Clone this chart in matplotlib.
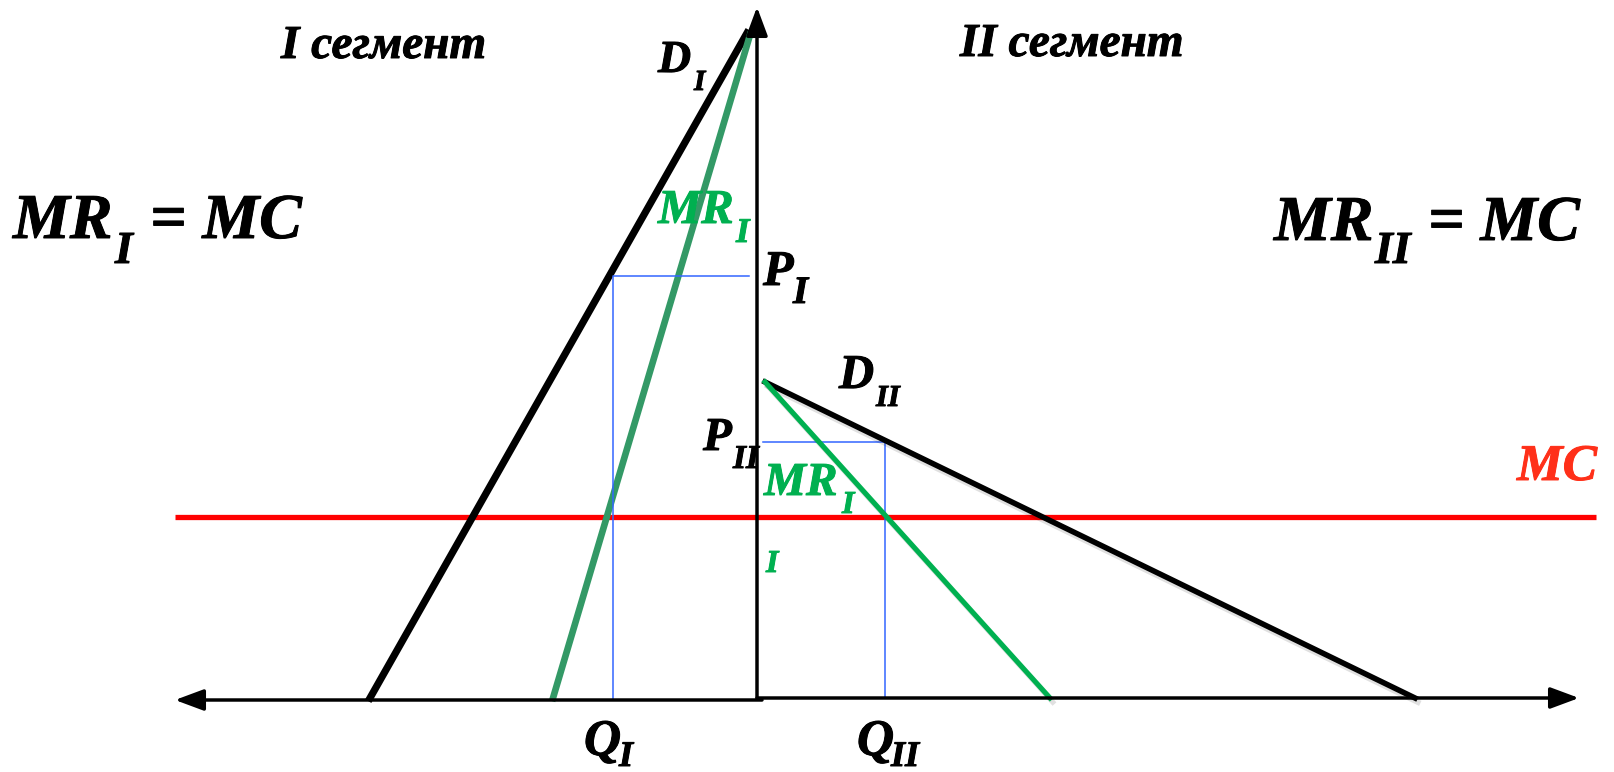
import matplotlib
matplotlib.use('Agg')
import matplotlib.pyplot as plt
import matplotlib.patheffects as pe

# ─── DATA (economic coordinates: origin at the axes crossing, Q left < 0) ─────
MC = 181

D1_q = [-387, -10]          # demand, segment I (drawn mirrored to the left)
D1_p = [0, 665]
MR1_q = [-204, -7]
MR1_p = [0, 663]
P1, Q1 = 422, -144

D2_q = [8, 658]             # demand, segment II
D2_p = [316, 0]
MR2_q = [8, 293]
MR2_p = [316, 0]
P2, Q2 = 256, 128

MC_q = [-582, 839]
AXIS_LEFT, AXIS_RIGHT, AXIS_TOP = -582, 822, 691

# ─── FIGURE ───────────────────────────────────────────────────────────────────
W, H = 1614, 772
X0, Y0 = 757, 698           # pixel position of the origin
fig = plt.figure(figsize=(W / 100, H / 100), dpi=100)
ax = fig.add_axes([0, 0, 1, 1])
ax.set_xlim(-X0, W - X0)
ax.set_ylim(Y0 - H, Y0)
ax.axis('off')

FONT = dict(family='Liberation Serif', weight='bold', style='italic')
shadow = [pe.SimpleLineShadow(offset=(2, -3), alpha=0.12, shadow_color='black'),
          pe.Normal()]

# axes with arrow heads
arrow = dict(arrowstyle='-|>,head_length=1.75,head_width=0.65',
             color='black', lw=2.5, shrinkA=0, shrinkB=0, mutation_scale=10)
ax.annotate('', xy=(0, AXIS_TOP), xytext=(0, 0), arrowprops=arrow)
ax.annotate('', xy=(AXIS_RIGHT, 0), xytext=(0, 0), arrowprops=arrow)
ax.annotate('', xy=(AXIS_LEFT, -2), xytext=(5, -2), arrowprops=arrow)

# MC
ax.plot(MC_q, [MC, MC], color='#FF0000', lw=3.8, solid_capstyle='butt')

# segment I
ax.plot(D1_q, D1_p, color='black', lw=5.2)
ax.plot(MR1_q, MR1_p, color='#339966', lw=4.8)
ax.plot([Q1, Q1, -8], [-2, P1, P1], color='#3366FF', lw=1.1)

# segment II
ax.plot([Q2, Q2, 6], [0, P2, P2], color='#3366FF', lw=1.1)
ax.plot(D2_q, D2_p, color='black', lw=4.0, path_effects=shadow)
ax.plot(MR2_q, MR2_p, color='#00B050', lw=3.7, path_effects=shadow)


# ─── LABELS (pixel positions, baseline anchored) ──────────────────────────────
def txt(x, y, s, size, color='black'):
    ax.text(x - X0, Y0 - y, s, fontsize=size, color=color,
            ha='left', va='baseline',
            path_effects=[pe.withStroke(linewidth=0.7, foreground=color)],
            **FONT)


txt(281, 58, 'I сегмент', 34)
txt(960, 56, 'II сегмент', 34)

txt(13, 238, 'MR', 46)
txt(115, 263, 'I', 33)
txt(150, 238, '= MC', 46)

txt(1274, 240, 'MR', 46)
txt(1375, 263, 'II', 33)
txt(1428, 240, '= MC', 46)

txt(1517, 480, 'MC', 37, '#FF3019')

txt(658, 72, 'D', 33)
txt(694, 90, 'I', 21)

txt(658, 223, 'MR', 35, '#00B050')
txt(736, 242, 'I', 25, '#00B050')

txt(763, 285, 'P', 36)
txt(793, 303, 'I', 28)

txt(839, 388, 'D', 35)
txt(876, 406, 'II', 22)

txt(703, 450, 'P', 34)
txt(733, 468, 'II', 24)

txt(764, 495, 'MR', 34, '#00B050')
txt(842, 513, 'I', 23, '#00B050')
txt(766, 572, 'I', 23, '#00B050')

txt(584, 755, 'Q', 37)
txt(619, 766, 'I', 26)
txt(857, 755, 'Q', 37)
txt(891, 766, 'II', 26)

fig.savefig('out.png', dpi=100, facecolor='white')
